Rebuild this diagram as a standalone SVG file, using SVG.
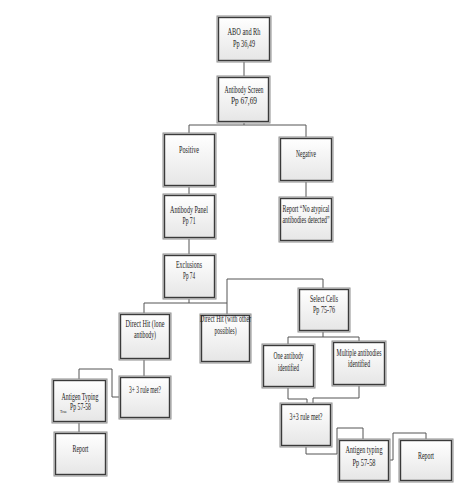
<svg xmlns="http://www.w3.org/2000/svg" width="460" height="501" viewBox="0 0 460 501">
<defs>
<linearGradient id="g" x1="0" y1="0" x2="0" y2="1">
<stop offset="0" stop-color="#ffffff"/>
<stop offset="1" stop-color="#e6e6e6"/>
</linearGradient>
</defs>
<style>
.o{fill:none;stroke:#8c8c8c;stroke-width:1}
.i{fill:url(#g);stroke:#3a3a3a;stroke-width:1.4}
.c{fill:none;stroke:#555;stroke-width:1}
text{font-family:"Liberation Serif","Times New Roman",serif;font-size:9.5px;fill:#222;text-anchor:middle}
.t{font-size:5px}
</style>
<rect width="460" height="501" fill="#fff"/>
<g id="connectors">
<path class="c" d="M244,62V76"/>
<path class="c" d="M244,123V125M189,125H306M189,125V133M306,125V137"/>
<path class="c" d="M189,187V194"/>
<path class="c" d="M306,182V197"/>
<path class="c" d="M189,239V254"/>
<path class="c" d="M189,299V303M144,303H227M144,303V313M227,279V314M227,279H323V288"/>
<path class="c" d="M323,332V337M288,337H359M288,337V344M359,337V341"/>
<path class="c" d="M144,360V376"/>
<path class="c" d="M119,397H112V369H79V379"/>
<path class="c" d="M79,423V432"/>
<path class="c" d="M288,388V399H307V403"/>
<path class="c" d="M359,386V398H313V403"/>
<path class="c" d="M306,447V454H337V428H363V439"/>
<path class="c" d="M390,460H393V433H426V439"/>
</g>
<g id="abo"><rect class="o" x="217" y="16" width="54" height="46"/><rect class="i" x="218.5" y="17.5" width="51" height="43"/>
<text x="244" y="35" textLength="33" lengthAdjust="spacingAndGlyphs">ABO and Rh</text>
<text x="244" y="47" textLength="22" lengthAdjust="spacingAndGlyphs">Pp 36,49</text></g>
<g id="screen"><rect class="o" x="217" y="76" width="53" height="47"/><rect class="i" x="218.5" y="77.5" width="50" height="44"/>
<text x="244" y="93" textLength="39" lengthAdjust="spacingAndGlyphs">Antibody Screen</text>
<text x="244" y="104" textLength="26" lengthAdjust="spacingAndGlyphs">Pp 67,69</text></g>
<g id="positive"><rect class="o" x="163" y="133" width="53" height="54"/><rect class="i" x="164.5" y="134.5" width="50" height="51"/>
<text x="189" y="153" textLength="20" lengthAdjust="spacingAndGlyphs">Positive</text></g>
<g id="negative"><rect class="o" x="279" y="137" width="54" height="45"/><rect class="i" x="280.5" y="138.5" width="51" height="42"/>
<text x="306" y="157" textLength="20" lengthAdjust="spacingAndGlyphs">Negative</text></g>
<g id="panel"><rect class="o" x="163" y="194" width="53" height="45"/><rect class="i" x="164.5" y="195.5" width="50" height="42"/>
<text x="189" y="213" textLength="38" lengthAdjust="spacingAndGlyphs">Antibody Panel</text>
<text x="189" y="224" textLength="13" lengthAdjust="spacingAndGlyphs">Pp 71</text></g>
<g id="report-neg"><rect class="o" x="279" y="197" width="54" height="45"/><rect class="i" x="280.5" y="198.5" width="51" height="42"/>
<text x="306" y="212" textLength="47" lengthAdjust="spacingAndGlyphs">Report “No atypical</text>
<text x="306" y="223" textLength="47" lengthAdjust="spacingAndGlyphs">antibodies detected”</text></g>
<g id="exclusions"><rect class="o" x="163" y="254" width="53" height="45"/><rect class="i" x="164.5" y="255.5" width="50" height="42"/>
<text x="189" y="268" textLength="26" lengthAdjust="spacingAndGlyphs">Exclusions</text>
<text x="189" y="279" textLength="12" lengthAdjust="spacingAndGlyphs">Pp 74</text></g>
<g id="select"><rect class="o" x="298" y="288" width="52" height="44"/><rect class="i" x="299.5" y="289.5" width="49" height="41"/>
<text x="324" y="302" textLength="28" lengthAdjust="spacingAndGlyphs">Select Cells</text>
<text x="324" y="313" textLength="22" lengthAdjust="spacingAndGlyphs">Pp 75-76</text></g>
<g id="direct-other"><rect class="o" x="200" y="314" width="51" height="49"/><rect class="i" x="201.5" y="315.5" width="48" height="46"/>
<text x="225.5" y="322" textLength="51" lengthAdjust="spacingAndGlyphs">Direct Hit (with other</text>
<text x="225.5" y="334" textLength="22" lengthAdjust="spacingAndGlyphs">possibles)</text></g>
<g id="direct-lone"><rect class="o" x="119" y="313" width="52" height="47"/><rect class="i" x="120.5" y="314.5" width="49" height="44"/>
<text x="145" y="327" textLength="39" lengthAdjust="spacingAndGlyphs">Direct Hit (lone</text>
<text x="145" y="338" textLength="22" lengthAdjust="spacingAndGlyphs">antibody)</text></g>
<g id="rule-left"><rect class="o" x="119" y="376" width="52" height="43"/><rect class="i" x="120.5" y="377.5" width="49" height="40"/>
<text x="145" y="393" textLength="32" lengthAdjust="spacingAndGlyphs">3+ 3 rule met?</text></g>
<g id="antigen-left"><rect class="o" x="52" y="379" width="55" height="44"/><rect class="i" x="53.5" y="380.5" width="52" height="41"/>
<text x="80" y="400" textLength="37" lengthAdjust="spacingAndGlyphs">Antigen Typing</text>
<text x="80.5" y="410" textLength="21" lengthAdjust="spacingAndGlyphs">Pp 57-58</text>
<text class="t" x="63.5" y="413" textLength="7" lengthAdjust="spacingAndGlyphs">True</text></g>
<g id="report-left"><rect class="o" x="54" y="432" width="53" height="44"/><rect class="i" x="55.5" y="433.5" width="50" height="41"/>
<text x="80.5" y="452" textLength="16" lengthAdjust="spacingAndGlyphs">Report</text></g>
<g id="one-ab"><rect class="o" x="262" y="344" width="53" height="44"/><rect class="i" x="263.5" y="345.5" width="50" height="41"/>
<text x="288.5" y="359" textLength="30" lengthAdjust="spacingAndGlyphs">One antibody</text>
<text x="288.5" y="371" textLength="21" lengthAdjust="spacingAndGlyphs">identified</text></g>
<g id="multi-ab"><rect class="o" x="332" y="341" width="54" height="45"/><rect class="i" x="333.5" y="342.5" width="51" height="42"/>
<text x="359" y="356" textLength="45" lengthAdjust="spacingAndGlyphs">Multiple antibodies</text>
<text x="359" y="367" textLength="22" lengthAdjust="spacingAndGlyphs">identified</text></g>
<g id="rule-right"><rect class="o" x="280" y="403" width="52" height="44"/><rect class="i" x="281.5" y="404.5" width="49" height="41"/>
<text x="306" y="420" textLength="33" lengthAdjust="spacingAndGlyphs">3+3 rule met?</text></g>
<g id="antigen-right"><rect class="o" x="338" y="439" width="52" height="43"/><rect class="i" x="339.5" y="440.5" width="49" height="40"/>
<text x="364" y="453" textLength="37" lengthAdjust="spacingAndGlyphs">Antigen typing</text>
<text x="364" y="466" textLength="23" lengthAdjust="spacingAndGlyphs">Pp 57-58</text></g>
<g id="report-right"><rect class="o" x="399" y="439" width="54" height="43"/><rect class="i" x="400.5" y="440.5" width="51" height="40"/>
<text x="426" y="459" textLength="16" lengthAdjust="spacingAndGlyphs">Report</text></g>
</svg>
